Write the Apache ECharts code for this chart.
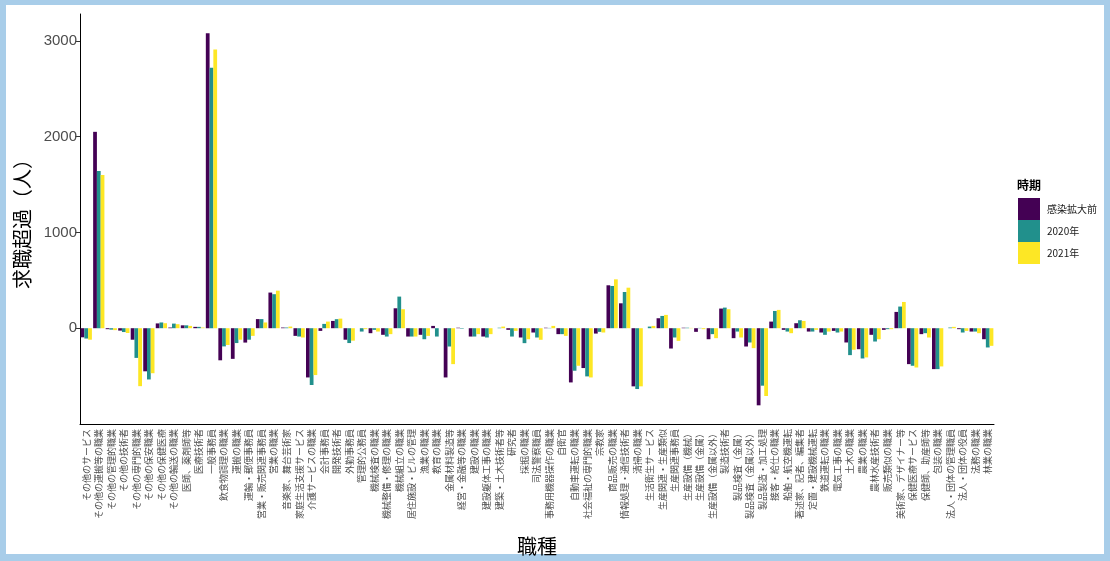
<!DOCTYPE html>
<html><head><meta charset="utf-8">
<script src="https://cdn.jsdelivr.net/npm/echarts@6/dist/echarts.min.js"></script>
<style>
html,body{margin:0;padding:0;background:#a8cde9;}
#frame{position:absolute;left:6px;top:5px;width:1098px;height:549px;background:#fff;}
#chart{position:absolute;left:0;top:0;width:1110px;height:561px;}
</style></head>
<body><div id="frame"></div><div id="chart"></div>
<script>
const categories = ["その他のサービス","その他の運搬等の職業","その他の管理的職業","その他の技術者","その他の専門的職業","その他の保安職業","その他の保健医療","その他の輸送の職業","医師、薬剤師等","医療技術者","一般事務員","飲食物調理の職業","運搬の職業","運輸・郵便事務員","営業・販売関連事務員","営業の職業","音楽家、舞台芸術家","家庭生活支援サービス","介護サービスの職業","会計事務員","開発技術者","外勤事務員","管理的公務員","機械検査の職業","機械整備・修理の職業","機械組立の職業","居住施設・ビルの管理","漁業の職業","教育の職業","金属材料製造等","経営・金融等の職業","建設の職業","建設躯体工事の職業","建築・土木技術者等","研究者","採掘の職業","司法警察職員","事務用機器操作の職業","自衛官","自動車運転の職業","社会福祉の専門的職業","宗教家","商品販売の職業","情報処理・通信技術者","清掃の職業","生活衛生サービス","生産関連・生産類似","生産関連事務員","生産設備（機械）","生産設備（金属）","生産設備（金属以外）","製造技術者","製品検査（金属）","製品検査（金属以外）","製品製造・加工処理","接客・給仕の職業","船舶・航空機運転","著述家、記者、編集者","定置・建設機械運転","鉄道運転の職業","電気工事の職業","土木の職業","農業の職業","農林水産技術者","販売類似の職業","美術家、デザイナー等","保健医療サービス","保健師、助産師等","包装の職業","法人・団体の管理職員","法人・団体の役員","法務の職業","林業の職業"];
const seriesNames = ["感染拡大前","2020年","2021年"];
const before = [-95,2050,-10,-25,-120,-450,50,7,30,14,3080,-335,-320,-150,95,372,7,-80,-514,-28,76,-120,0,-52,-69,208,-87,-69,24,-514,5,-87,-87,0,-17,-97,-45,5,-62,-566,-416,-56,448,260,-607,0,104,-212,5,-38,-115,205,-104,-191,-805,69,-17,52,-35,-45,-28,-149,-219,-69,-17,170,-375,-62,-427,0,-10,-35,-115];
const y2020 = [-108,1640,-15,-40,-310,-535,60,48,30,14,2720,-190,-155,-120,95,355,7,-87,-593,45,94,-155,-35,-17,-87,330,-87,-115,-87,-191,-5,-87,-97,5,-87,-156,-97,3,-62,-444,-503,-38,441,378,-635,17,128,-97,5,3,-62,215,-35,-149,-600,180,-35,83,-35,-69,-45,-281,-316,-139,-10,226,-392,-52,-427,7,-45,-35,-201];
const y2021 = [-120,1600,-20,-50,-605,-470,52,42,24,7,2910,-175,-120,-80,60,392,17,-97,-489,69,100,-130,-10,-35,-62,198,-87,-80,0,-375,0,-62,-62,17,-28,-115,-121,24,-80,-392,-514,-45,510,423,-607,24,139,-132,3,-10,-104,198,-97,-208,-708,191,-52,76,-17,-35,-35,-225,-305,-115,-10,274,-410,-97,-399,14,-28,-52,-184];
const yTicks = [0,1000,2000,3000];
const colors = ["#440154","#21908C","#FDE725"];

const font = "'Liberation Sans','Noto Sans CJK JP',sans-serif";
const chart = echarts.init(document.getElementById('chart'), null, {renderer:'canvas'});
const data = [before, y2020, y2021];
chart.setOption({
  animation:false,
  backgroundColor:'transparent',
  textStyle:{fontFamily:font},
  grid:{left:80, top:14, width:914, height:411, containLabel:false},
  legend:{
    orient:'vertical', left:1018, top:198, itemGap:0, itemWidth:22, itemHeight:22, padding:0,
    icon:'rect', data:seriesNames,
    textStyle:{fontSize:10, color:'#1a1a1a', fontFamily:"'Noto Sans CJK JP',sans-serif", padding:[0,0,0,2]}
  },
  graphic:[{type:'text', left:1017, top:179, style:{text:'時期', fontSize:12, fontWeight:'bold', fill:'#000', fontFamily:"'Noto Sans CJK JP',sans-serif"}}],
  xAxis:{
    type:'category', data:categories,
    name:'職種', nameLocation:'middle', nameGap:112,
    nameTextStyle:{fontSize:20, color:'#000', fontFamily:"'Noto Sans CJK JP',sans-serif"},
    axisLine:{onZero:false, lineStyle:{color:'#000', width:1}},
    axisTick:{alignWithLabel:true, length:4, lineStyle:{color:'#333'}},
    axisLabel:{rotate:90, interval:0, fontSize:9, color:'#4d4d4d', margin:5, fontFamily:"'Noto Sans CJK JP',sans-serif"}
  },
  yAxis:{
    type:'value', min:-1000, max:3280,
    name:'求職超過（人）', nameLocation:'middle', nameGap:27, nameRotate:90,
    nameTextStyle:{fontSize:20, color:'#000', fontFamily:"'Noto Sans CJK JP',sans-serif"},
    axisLine:{show:true, lineStyle:{color:'#000', width:1}},
    axisTick:{show:true, length:5, customValues:yTicks, lineStyle:{color:'#333'}},
    axisLabel:{fontSize:15, color:'#4d4d4d', margin:3, customValues:yTicks, formatter:v=>String(v)},
    splitLine:{show:false}
  },
  series: seriesNames.map((n,i)=>({
    name:n, type:'bar', data:data[i], barGap:'0%', barCategoryGap:'10%',
    itemStyle:{color:colors[i]}
  }))
});
</script></body></html>
